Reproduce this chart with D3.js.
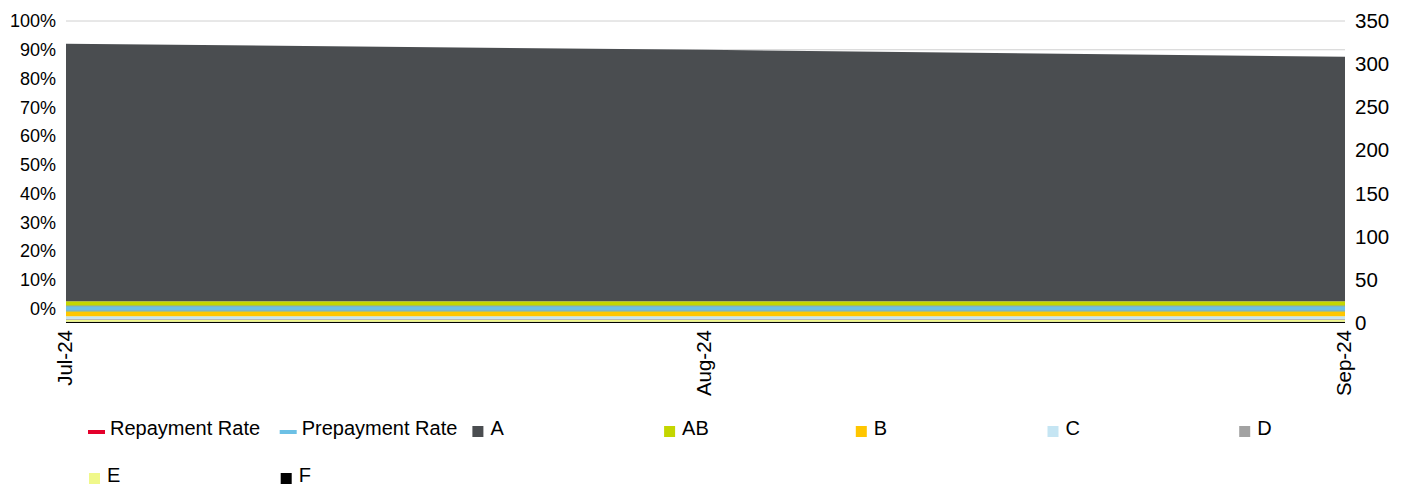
<!DOCTYPE html>
<html>
<head>
<meta charset="utf-8">
<script src="https://cdn.jsdelivr.net/npm/d3@7"></script>
<style>
  html, body { margin: 0; padding: 0; background: #fff; }
  svg { display: block; font-family: "Liberation Sans", Arial, sans-serif; }
</style>
</head>
<body>
<svg id="chart" width="1403" height="488"></svg>
<script>
// ---- data ----
const months = ["Jul-24", "Aug-24", "Sep-24"];
const repaymentRate = [0, 0, 0];
const prepaymentRate = [0, 0, 0];
const seriesA  = [298.5, 291.5, 283.5];
const seriesAB = [12.0, 12.0, 12.0];
const seriesB  = [5.2, 5.2, 5.2];
const seriesC  = [2.9, 2.9, 2.9];
const seriesD  = [1.2, 1.2, 1.2];
const seriesE  = [2.3, 2.3, 2.3];
const seriesF  = [1.5, 1.5, 1.5];
const leftTicks = [0, 0.1, 0.2, 0.3, 0.4, 0.5, 0.6, 0.7, 0.8, 0.9, 1.0];
const rightTicks = [0, 50, 100, 150, 200, 250, 300, 350];

const colors = {
  "Repayment Rate": "#e4002b",
  "Prepayment Rate": "#6cc0e5",
  A: "#4a4d50", AB: "#c4d600", B: "#ffc600", C: "#c5e5f3",
  D: "#a2a2a2", E: "#f0f88a", F: "#000000"
};

// stack order bottom -> top
const stackKeys = ["F", "E", "D", "C", "B", "AB", "A"];
const seriesMap = { A: seriesA, AB: seriesAB, B: seriesB, C: seriesC, D: seriesD, E: seriesE, F: seriesF };
const table = months.map((m, i) => {
  const row = { month: m };
  stackKeys.forEach(k => row[k] = seriesMap[k][i]);
  return row;
});

const svg = d3.select("#chart");
const plotTop = 21, plotBottom = 323, plotLeft = 66, plotRight = 1345;
const FONT = "Liberation Sans, Arial, sans-serif";

const x = d3.scalePoint().domain(months).range([plotLeft, plotRight]);
const yL = d3.scaleLinear().domain([-0.05, 1.0]).range([plotBottom, plotTop]);
const yR = d3.scaleLinear().domain([0, 350]).range([plotBottom, plotTop]);

// gridlines
svg.append("g").selectAll("line").data(leftTicks).join("line")
  .attr("x1", plotLeft).attr("x2", plotRight)
  .attr("y1", d => yL(d)).attr("y2", d => yL(d))
  .attr("stroke", "#d0d0d0").attr("stroke-width", 1);

// stacked areas
const stack = d3.stack().keys(stackKeys);
const layers = stack(table);
const area = d3.area()
  .x(d => x(d.data.month))
  .y0(d => yR(d[0]))
  .y1(d => yR(d[1]));
svg.append("g").selectAll("path").data(layers).join("path")
  .attr("d", area)
  .attr("fill", d => colors[d.key]);

// lines (left axis)
const line = d3.line().x((d, i) => x(months[i])).y(d => yL(d));
svg.append("path").datum(repaymentRate).attr("d", line)
  .attr("fill", "none").attr("stroke", colors["Repayment Rate"]).attr("stroke-width", 4);
svg.append("path").datum(prepaymentRate).attr("d", line)
  .attr("fill", "none").attr("stroke", "#8fa8a8").attr("stroke-width", 6);
svg.append("path").datum(prepaymentRate).attr("d", line)
  .attr("fill", "none").attr("stroke", colors["Prepayment Rate"]).attr("stroke-width", 4);

// left axis
const axL = svg.append("g").attr("transform", `translate(${plotLeft},0)`)
  .call(d3.axisLeft(yL).tickValues(leftTicks).tickFormat(d3.format(".0%")).tickSize(0).tickPadding(10));
axL.select(".domain").remove();
axL.selectAll("text").attr("font-size", 18).attr("fill", "#000").attr("font-family", FONT);

// right axis
const axR = svg.append("g").attr("transform", `translate(${plotRight},0)`)
  .call(d3.axisRight(yR).tickValues(rightTicks).tickSize(0).tickPadding(10));
axR.select(".domain").remove();
axR.selectAll("text").attr("font-size", 20.5).attr("fill", "#000").attr("font-family", FONT);

// bottom axis
const axB = svg.append("g").attr("transform", `translate(0,${plotBottom})`)
  .call(d3.axisBottom(x).tickSize(0).tickPadding(0));
axB.select(".domain").remove();
axB.selectAll("text")
  .attr("font-size", 20.5).attr("fill", "#000").attr("font-family", FONT)
  .attr("transform", "rotate(-90)")
  .attr("text-anchor", "end")
  .attr("x", -7).attr("y", -2).attr("dy", "0.35em");

// legend
const legendItems = [
  { name: "Repayment Rate", type: "line" },
  { name: "Prepayment Rate", type: "line" },
  { name: "A", type: "box" }, { name: "AB", type: "box" }, { name: "B", type: "box" },
  { name: "C", type: "box" }, { name: "D", type: "box" },
  { name: "E", type: "box" }, { name: "F", type: "box" }
];
const legendX0 = 88, legendStep = 191.7, rowY = [428, 475], perRow = 7;
const lg = svg.append("g").selectAll("g").data(legendItems).join("g")
  .attr("transform", (d, i) => `translate(${legendX0 + (i % perRow) * legendStep},${rowY[Math.floor(i / perRow)]})`);
lg.each(function(d) {
  const g = d3.select(this);
  if (d.type === "line") {
    g.append("rect").attr("x", 0).attr("y", 2).attr("width", 17).attr("height", 4).attr("fill", colors[d.name]);
    g.append("text").attr("x", 22).attr("y", 0).attr("dy", "0.35em")
      .attr("font-size", 20).attr("font-family", FONT).text(d.name);
  } else {
    g.append("rect").attr("x", 1).attr("y", -2).attr("width", 11).attr("height", 11).attr("fill", colors[d.name]);
    g.append("text").attr("x", 19).attr("y", 0).attr("dy", "0.35em")
      .attr("font-size", 20).attr("font-family", FONT).text(d.name);
  }
});
</script>
</body>
</html>
